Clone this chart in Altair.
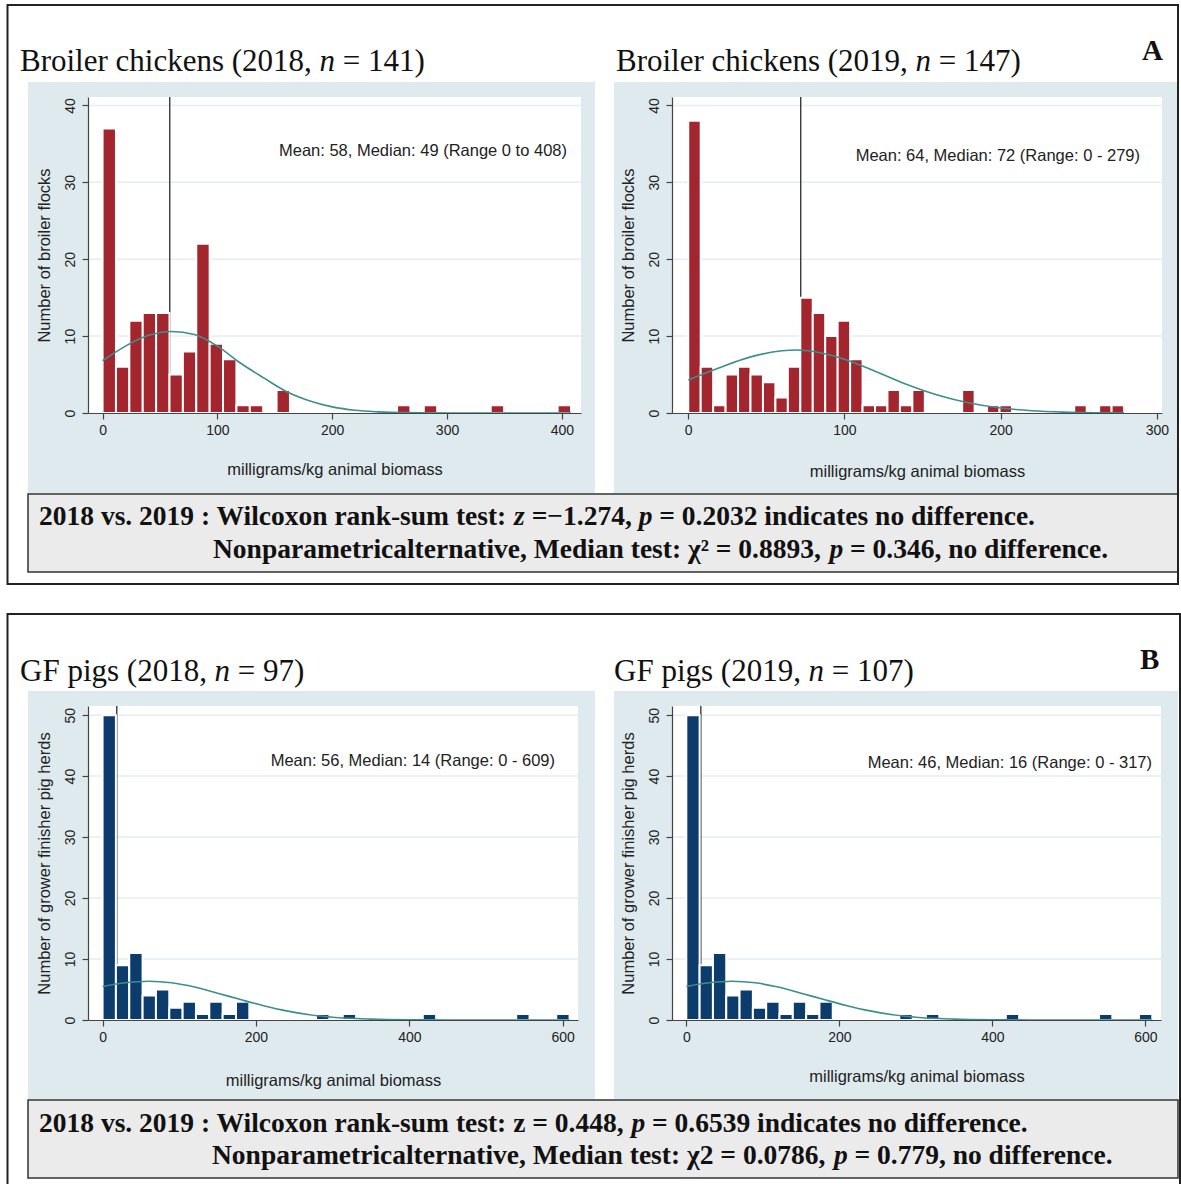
import altair as alt
import pandas as pd

# ---------------- data ----------------
NBINS = 35

broiler18_counts = [37, 6, 12, 13, 13, 5, 8, 22, 9, 7, 1, 1, 0, 3, 0, 0, 0, 0, 0, 0,
                    0, 0, 1, 0, 1, 0, 0, 0, 0, 1, 0, 0, 0, 0, 1]
broiler18_max = 408
broiler19_counts = [38, 6, 1, 5, 6, 5, 4, 2, 6, 15, 13, 10, 12, 7, 1, 1, 3, 1, 3, 0,
                    0, 0, 3, 0, 1, 1, 0, 0, 0, 0, 0, 1, 0, 1, 1]
broiler19_max = 279
pigs18_counts = [50, 9, 11, 4, 5, 2, 3, 1, 3, 1, 3, 0, 0, 0, 0, 0, 1, 0, 1, 0,
                 0, 0, 0, 0, 1, 0, 0, 0, 0, 0, 0, 1, 0, 0, 1]
pigs18_max = 609
pigs19_counts = [50, 9, 11, 4, 5, 2, 3, 1, 3, 1, 3, 0, 0, 0, 0, 0, 1, 0, 1, 0,
                 0, 0, 0, 0, 1, 0, 0, 0, 0, 0, 0, 1, 0, 0, 1]
pigs19_max = 609

broiler18_curve_x = [0, 20, 40, 60, 80, 100, 120, 140, 160, 180, 200, 220, 240, 260, 300, 350, 408]
broiler18_curve_y = [6.8, 8.7, 10.1, 10.6, 10.2, 8.7, 6.5, 4.6, 2.8, 1.6, 0.8, 0.35, 0.15, 0.05, 0.0, 0.0, 0.0]
broiler19_curve_x = [0, 20, 40, 60, 70, 80, 100, 120, 140, 160, 180, 200, 220, 240, 260, 279]
broiler19_curve_y = [4.3, 5.9, 7.3, 8.1, 8.2, 8.0, 7.0, 5.4, 3.7, 2.3, 1.3, 0.65, 0.3, 0.12, 0.04, 0.01]
pigs18_curve_x = [0, 30, 60, 90, 120, 150, 180, 210, 240, 270, 300, 350, 400, 450, 500, 609]
pigs18_curve_y = [5.5, 6.1, 6.35, 6.1, 5.4, 4.4, 3.35, 2.35, 1.5, 0.85, 0.45, 0.15, 0.04, 0.01, 0.0, 0.0]
pigs19_curve_x = [0, 30, 60, 90, 120, 150, 180, 210, 240, 270, 300, 350, 400, 450, 500, 609]
pigs19_curve_y = [5.5, 6.1, 6.35, 6.1, 5.4, 4.4, 3.35, 2.35, 1.5, 0.85, 0.45, 0.15, 0.04, 0.01, 0.0, 0.0]

ref_lines = [58.5, 72, 18.5, 19]

# titles as (text, italic?) segments
titles = [
    [("Broiler chickens (2018, ", False), ("n", True), (" = 141)", False)],
    [("Broiler chickens (2019, ", False), ("n", True), (" = 147)", False)],
    [("GF pigs (2018, ", False), ("n", True), (" = 97)", False)],
    [("GF pigs (2019, ", False), ("n", True), (" = 107)", False)],
]
annotations = ["Mean: 58, Median: 49 (Range 0 to 408)",
               "Mean: 64, Median: 72 (Range: 0 - 279)",
               "Mean: 56, Median: 14 (Range: 0 - 609)",
               "Mean: 46, Median: 16 (Range: 0 - 317)"]
x_title = "milligrams/kg animal biomass"
y_titles = ["Number of broiler flocks", "Number of broiler flocks",
            "Number of grower finisher pig herds", "Number of grower finisher pig herds"]
x_ticks = [[0, 100, 200, 300, 400], [0, 100, 200, 300], [0, 200, 400, 600], [0, 200, 400, 600]]
y_ticks = [[0, 10, 20, 30, 40], [0, 10, 20, 30, 40], [0, 10, 20, 30, 40, 50], [0, 10, 20, 30, 40, 50]]

test_A = [
    [("2018 vs. 2019 : Wilcoxon rank-sum test: ", False), ("z", True), (" =\u22121.274, ", False),
     ("p", True), (" = 0.2032 indicates no difference.", False)],
    [("Nonparametricalternative, Median test: \u03c7\u00b2 = 0.8893, ", False), ("p", True),
     (" = 0.346, no difference.", False)],
]
test_B = [
    [("2018 vs. 2019 : Wilcoxon rank-sum test: z = 0.448, ", False), ("p", True),
     (" = 0.6539 indicates no difference.", False)],
    [("Nonparametricalternative, Median test: \u03c72 = 0.0786, ", False), ("p", True),
     (" = 0.779, no difference.", False)],
]
letters = ["A", "B"]

# ---------------- styling ----------------
RED = "#a3252d"
NAVY = "#0b3c6c"
TEAL = "#3c8f8a"
BG = "#dfeaee"
GRID = "#e6eef1"
BOX = "#ebebeb"
SANS = "Liberation Sans"
SERIF = "Liberation Serif"

# advance widths (1/1000 em) of the Times-metric serif, used to place italic pieces
ROMAN = {' ': 250, '(': 333, ')': 333, ',': 250, '=': 564, 'B': 667, 'G': 722, 'F': 556,
         'r': 333, 'o': 500, 'i': 278, 'l': 278, 'e': 444, 'c': 444, 'h': 500, 'k': 500,
         'n': 500, 's': 389, 'p': 500, 'g': 500}
BOLD = {' ': 250, '(': 333, ')': 333, ',': 250, '.': 250, ':': 333, '-': 333, '=': 570,
        '\u2212': 570, '\u00b2': 300, '\u03c7': 520, 'M': 944, 'N': 722, 'W': 1000,
        'a': 500, 'c': 444, 'd': 556, 'e': 444, 'f': 333, 'i': 278, 'k': 556, 'l': 278,
        'm': 833, 'n': 556, 'o': 500, 'p': 556, 'r': 444, 's': 389, 't': 333, 'u': 556,
        'v': 500, 'x': 500, 'z': 444}
ITALIC = {'n': 500, 'p': 500, 'z': 389}


def text_width(s, table, size):
    return sum(table.get(ch, 500) for ch in s) * size / 1000.0


one = pd.DataFrame({"k": [0]})


def deco_rect(x, x2, y, y2, **kw):
    return alt.Chart(one).mark_rect(**kw).encode(
        x=alt.value(x), x2=alt.value(x2), y=alt.value(y), y2=alt.value(y2))


def deco_text(txt, x, y, **kw):
    return alt.Chart(pd.DataFrame({"t": [txt]})).mark_text(**kw).encode(
        text="t:N", x=alt.value(x), y=alt.value(y))


def rich_text(segments, x0, y, size, bold):
    out = []
    x = x0
    for txt, ital in segments:
        kw = dict(align="left", baseline="alphabetic", font=SERIF, fontSize=size, color="#111")
        if bold:
            kw["fontWeight"] = "bold"
        if ital:
            kw["fontStyle"] = "italic"
        table = ITALIC if ital else (BOLD if bold else ROMAN)
        body = txt.lstrip(" ")
        lead = len(txt) - len(body)
        x += text_width(" " * lead, table, size)
        out.append(deco_text(body, x, y, **kw))
        x += text_width(body, table, size)
    return out


def panel(i, counts, vmax, cx, cy, color, W, H, xdom, ydom, bg_box, xtitle_pad,
          title_xy, annot_xy, extra_before=None, extra_after=None):
    xs = alt.Scale(domain=xdom, nice=False, zero=False)
    ys = alt.Scale(domain=ydom, nice=False, zero=False)
    xa = alt.Axis(values=x_ticks[i], title=x_title, grid=False, zindex=1,
                  labelFont=SANS, labelFontSize=14, labelColor="#222", labelPadding=4,
                  labelFlush=False, titleFont=SANS, titleFontSize=16.5, titleFontWeight="normal",
                  titleColor="#222", titlePadding=xtitle_pad, tickSize=6, tickColor="#444",
                  tickWidth=1.2, domainColor="#444", domainWidth=1.2)
    ya = alt.Axis(values=y_ticks[i], title=y_titles[i], grid=False, zindex=1,
                  labelFont=SANS, labelFontSize=14, labelColor="#222", labelPadding=5,
                  labelAngle=270, labelAlign="center", labelBaseline="bottom",
                  titleFont=SANS, titleFontSize=16.5, titleFontWeight="normal",
                  titleColor="#222", titlePadding=11, tickSize=6, tickColor="#444",
                  tickWidth=1.2, domainColor="#444", domainWidth=1.2)

    w = vmax / NBINS
    bars_df = pd.DataFrame({
        "start": [k * w for k in range(NBINS)],
        "end": [(k + 1) * w for k in range(NBINS)],
        "count": counts,
        "base": [0] * NBINS,
    })
    bars_df = bars_df[bars_df["count"] > 0]
    curve_df = pd.DataFrame({"x": cx, "y": cy})

    layers = list(extra_before or [])
    layers.append(deco_rect(*bg_box, fill=BG))
    layers.append(deco_rect(0, W, 0, H, fill="white"))
    layers.append(alt.Chart(pd.DataFrame({"g": y_ticks[i][1:]})).mark_rule(
        color=GRID, strokeWidth=1.5).encode(
        y=alt.Y("g:Q", scale=ys, axis=ya), x=alt.value(0), x2=alt.value(W)))
    layers.append(alt.Chart(pd.DataFrame({"v": [ref_lines[i]]})).mark_rule(
        color="#3a3a3a", strokeWidth=1.4).encode(
        x=alt.X("v:Q", scale=xs, axis=xa), y=alt.value(0), y2=alt.value(H)))
    layers.append(alt.Chart(bars_df).mark_rect(color=color, stroke="white", strokeWidth=2).encode(
        x=alt.X("start:Q", scale=xs, axis=xa), x2="end:Q",
        y=alt.Y("count:Q", scale=ys, axis=ya), y2="base:Q"))
    layers.append(alt.Chart(curve_df).mark_line(
        color=TEAL, strokeWidth=1.6, interpolate="monotone").encode(
        x=alt.X("x:Q", scale=xs, axis=xa), y=alt.Y("y:Q", scale=ys, axis=ya)))
    layers.append(deco_text(annotations[i], annot_xy[0], annot_xy[1], align="right",
                            baseline="middle", font=SANS, fontSize=16.5, color="#222"))
    layers += rich_text(titles[i], title_xy[0], title_xy[1], 31, False)
    layers += list(extra_after or [])
    return alt.layer(*layers).properties(width=W, height=H)


# page-anchoring rect (panel 1 plot origin is at page (88, 97))
page = [deco_rect(-88, 1181 - 88, -97, 1184 - 97, fill="white")]

W1, W2, W3, W4 = 493, 490, 490, 489
HA, HB = 316, 314
TS = 27.5

box_kw = dict(fill=BOX, stroke="#333", strokeWidth=1.5)
letter_kw = dict(align="left", baseline="alphabetic", font=SERIF, fontSize=29,
                 fontWeight="bold", color="#111")

extras_A = ([deco_rect(-644, 506, 397, 475, **box_kw)]
            + rich_text(test_A[0], -633, 428, TS, True)
            + rich_text(test_A[1], -459, 461, TS, True)
            + [deco_rect(-664.5, 506, -92, 487, filled=False, color="#222", strokeWidth=2),
               deco_text(letters[0], 470, -37, **letter_kw)])
extras_B = ([deco_rect(-644, 506, 394, 472, **box_kw)]
            + rich_text(test_B[0], -633, 426, TS, True)
            + rich_text(test_B[1], -460, 458, TS, True)
            + [deco_rect(-664.5, 508, -92, 490, filled=False, color="#222", strokeWidth=2),
               deco_text(letters[1], 468, -37, **letter_kw)])

p1 = panel(0, broiler18_counts, broiler18_max, broiler18_curve_x, broiler18_curve_y, RED,
           W1, HA, [-12.7, 416.7], [0, 41.1], (-60, W1 + 14, -15, HA + 80), 24,
           (-68, -26), (479, 54), extra_before=page)
p2 = panel(1, broiler19_counts, broiler19_max, broiler19_curve_x, broiler19_curve_y, RED,
           W2, HA, [-10.4, 303.3], [0, 41.1], (-58, W2 + 16, -15, HA + 80), 26,
           (-56, -26), (468, 59), extra_after=extras_A)
p3 = panel(2, pigs18_counts, pigs18_max, pigs18_curve_x, pigs18_curve_y, NAVY,
           W3, HB, [-19.0, 620.0], [0, 51.5], (-60, W3 + 17, -15, HB + 79), 28,
           (-68, -25), (467, 55))
p4 = panel(3, pigs19_counts, pigs19_max, pigs19_curve_x, pigs19_curve_y, NAVY,
           W4, HB, [-18.7, 620.4], [0, 51.5], (-58, W4 + 17, -15, HB + 79), 24,
           (-58, -25), (480, 57), extra_after=extras_B)

chart = alt.concat(p1, p2, p3, p4, columns=2, bounds="flush",
                   spacing={"row": 293, "column": 91}).properties(
    padding=0, background="white"
).configure_view(strokeWidth=0, fill=None)

chart.save("out.html", embed_options={"renderer": "svg", "actions": False})
